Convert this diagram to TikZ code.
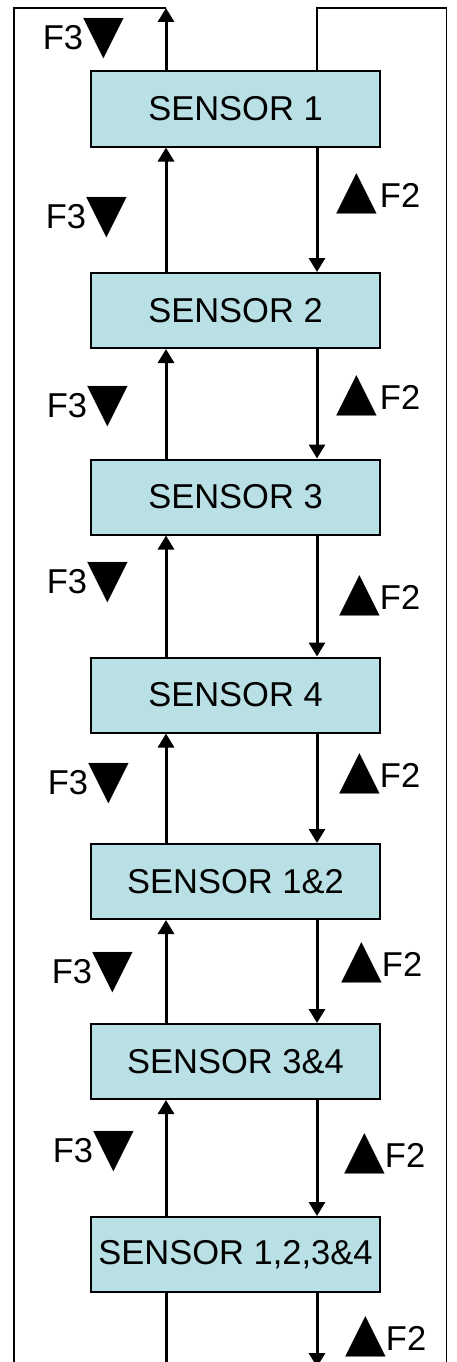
\documentclass[tikz,border=0pt]{standalone}
\usepackage{fontspec}
\setmainfont{Liberation Sans}
\newfontfamily\symfont{DejaVu Sans}
\usetikzlibrary{arrows.meta}
\definecolor{boxfill}{RGB}{185,224,228}
\newcommand{\dtri}{\raisebox{-3pt}{\symfont\fontsize{53}{53}\selectfont ▼}}
\newcommand{\utri}{{\symfont\fontsize{53}{53}\selectfont ▲}}
\begin{document}
\begin{tikzpicture}[x=1pt,y=-1pt,
  sensor/.style={draw=black, line width=2pt, fill=boxfill, minimum width=289pt,
    minimum height=75pt, inner sep=0pt, font=\fontsize{34.5}{36}\selectfont},
  flow/.style={line width=3pt, -{Triangle[width=16pt,length=14pt]}},
  plain/.style={line width=3pt},
  loopline/.style={line width=1.4pt},
  lab/.style={inner sep=0pt, font=\fontsize{34.5}{36}\selectfont}]
\useasboundingbox (0,0) rectangle (456,1362);
\clip (0,0) rectangle (456,1362);
\fill[white] (0,0) rectangle (456,1362);
\coordinate (L) at (166,0);
\coordinate (R) at (317,0);
\coordinate (OL) at (14,0);
\coordinate (OR) at (446.5,0);
\coordinate (T) at (0,8);
\coordinate (B) at (0,1375);
\coordinate (BA) at (0,1367);
% boxes
\node[sensor] (b1) at (235.5,109) {SENSOR 1};
\node[sensor] (b2) at (235.5,310.5) {SENSOR 2};
\node[sensor] (b3) at (235.5,497) {SENSOR 3};
\node[sensor] (b4) at (235.5,695) {SENSOR 4};
\node[sensor] (b5) at (235.5,881.5) {SENSOR 1\&2};
\node[sensor] (b6) at (235.5,1061.5) {SENSOR 3\&4};
\node[sensor] (b7) at (235.5,1254.5) {SENSOR 1,2,3\&4};
% left (upward) flow
\draw[flow] (b1.north -| L) -- (L |- T);
\draw[flow] (b2.north -| L) -- (b1.south -| L);
\draw[flow] (b3.north -| L) -- (b2.south -| L);
\draw[flow] (b4.north -| L) -- (b3.south -| L);
\draw[flow] (b5.north -| L) -- (b4.south -| L);
\draw[flow] (b6.north -| L) -- (b5.south -| L);
\draw[flow] (b7.north -| L) -- (b6.south -| L);
\draw[plain] (b7.south -| L) -- (L |- B);
\draw[loopline] (L |- T) -- (OL |- T) -- (OL |- B);
% right (downward) flow
\draw[loopline] (b1.north -| R) -- (R |- T) -- (OR |- T) -- (OR |- B);
\draw[flow] (b1.south -| R) -- (b2.north -| R);
\draw[flow] (b2.south -| R) -- (b3.north -| R);
\draw[flow] (b3.south -| R) -- (b4.north -| R);
\draw[flow] (b4.south -| R) -- (b5.north -| R);
\draw[flow] (b5.south -| R) -- (b6.north -| R);
\draw[flow] (b6.south -| R) -- (b7.north -| R);
\draw[flow] (b7.south -| R) -- (R |- BA);
% labels
\node[lab, anchor=base east] (l0) at (124,50) {F3\dtri};
\node[lab, anchor=base east] (l1) at (127,228) {F3\dtri};
\node[lab, anchor=base east] (l2) at (128,417) {F3\dtri};
\node[lab, anchor=base east] (l3) at (128,593) {F3\dtri};
\node[lab, anchor=base east] (l4) at (129,794) {F3\dtri};
\node[lab, anchor=base east] (l5) at (133,983) {F3\dtri};
\node[lab, anchor=base east] (l6) at (134,1162) {F3\dtri};
\node[lab, anchor=base west] (r1) at (336,207) {\utri\hspace{3pt}F2};
\node[lab, anchor=base west] (r2) at (336,409) {\utri\hspace{3pt}F2};
\node[lab, anchor=base west] (r3) at (339,609) {\utri F2};
\node[lab, anchor=base west] (r4) at (339,787) {\utri F2};
\node[lab, anchor=base west] (r5) at (341,976) {\utri F2};
\node[lab, anchor=base west] (r6) at (344,1167) {\utri F2};
\node[lab, anchor=base west] (r7) at (345,1350) {\utri F2};
\end{tikzpicture}
\end{document}
